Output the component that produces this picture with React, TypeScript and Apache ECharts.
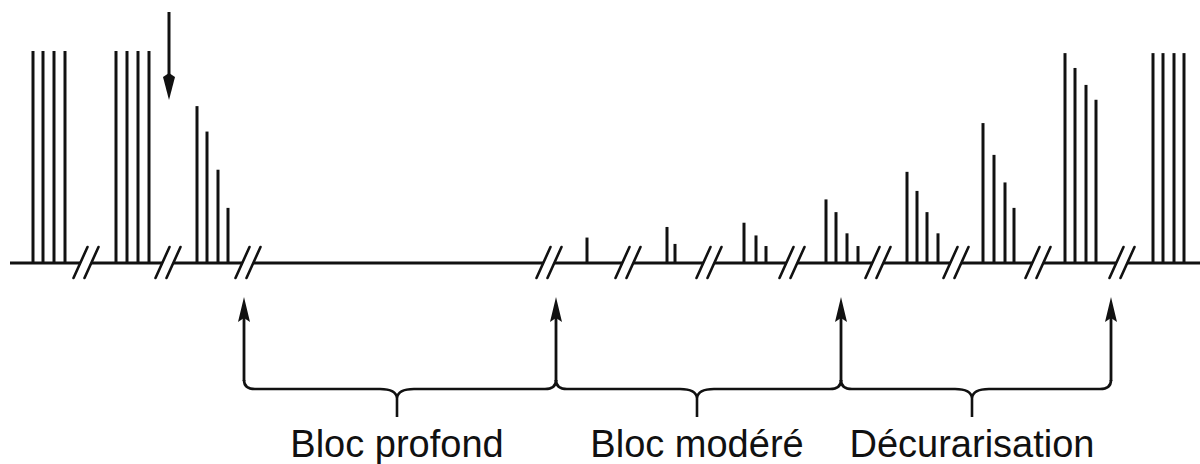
import React, { useEffect, useRef } from "react";
import * as echarts from "echarts";

// Train-of-four stimulations: time position (arbitrary units) and twitch amplitude (% of control)
const twitchTimes = [
  33, 43, 54, 65,
  116, 127, 138, 149,
  197, 207, 218, 228,
  587,
  667, 675,
  744, 756, 766,
  826, 836, 847, 858,
  907, 917, 927, 938,
  983, 994, 1005, 1014,
  1065, 1075, 1086, 1096,
  1153, 1163, 1174, 1184,
];
const twitchAmplitudes = [
  100, 100, 100, 100,
  100, 100, 100, 100,
  74, 62, 44, 26,
  12,
  17, 9,
  19, 13, 8,
  30, 24, 14, 8,
  43, 34, 24, 14,
  66, 51, 38, 26,
  99, 92, 84, 77,
  99, 99, 99, 99,
];
const timeBreaks = [86, 168, 248, 549, 628, 709, 792, 878, 956, 1038, 1122];
const phaseBounds = [244, 556, 841, 1111];
const phaseCenters = [397, 697, 972];
const phaseLabels = ["Bloc profond", "Bloc modéré", "Décurarisation"];
const injectionTime = 169;
const axisStart = 10;
const axisEnd = 1200;

const INK = "#111";

export default function App() {
  const ref = useRef<HTMLDivElement>(null);

  useEffect(() => {
    if (!ref.current) return;
    const chart = echarts.init(ref.current, null, { renderer: "svg" });

    const segments: number[][] = [];
    let start = axisStart;
    timeBreaks.forEach((b) => {
      segments.push([start, b - 5]);
      start = b + 5;
    });
    segments.push([start, axisEnd]);

    const phases = phaseLabels.map((_, i) => [phaseBounds[i], phaseBounds[i + 1], phaseCenters[i]]);

    chart.setOption({
      animation: false,
      backgroundColor: "#fff",
      grid: { left: 0, right: 0, top: 51, bottom: 201, containLabel: false },
      xAxis: { type: "value", min: 0, max: 1200, show: false },
      yAxis: { type: "value", min: 0, max: 100, show: false },
      series: [
        {
          type: "bar",
          name: "twitches",
          silent: true,
          barWidth: 3,
          itemStyle: { color: INK },
          data: twitchTimes.map((t, i) => [t, twitchAmplitudes[i]]),
        },
        {
          type: "custom",
          name: "baseline",
          silent: true,
          data: segments,
          renderItem: (params: any, api: any) => {
            const p0 = api.coord([api.value(0), 0]);
            const p1 = api.coord([api.value(1), 0]);
            return {
              type: "line",
              shape: { x1: p0[0], y1: p0[1], x2: p1[0], y2: p1[1] },
              style: { stroke: INK, lineWidth: 3 },
            };
          },
        },
        {
          type: "custom",
          name: "breaks",
          silent: true,
          data: timeBreaks.map((b) => [b, 0]),
          renderItem: (params: any, api: any) => {
            const p = api.coord([api.value(0), 0]);
            const mk = (dx: number) => ({
              type: "line",
              shape: { x1: p[0] + dx - 7, y1: p[1] + 15, x2: p[0] + dx + 7, y2: p[1] - 16 },
              style: { stroke: INK, lineWidth: 2.6, lineCap: "round" },
            });
            return { type: "group", children: [mk(-5.5), mk(5.5)] };
          },
        },
        {
          type: "custom",
          name: "phases",
          silent: true,
          data: phases,
          renderItem: (params: any, api: any) => {
            const base = api.coord([0, 0])[1];
            const a = api.coord([api.value(0), 0])[0];
            const b = api.coord([api.value(1), 0])[0];
            const c = api.coord([api.value(2), 0])[0];
            const H = base + 126;
            const tipY = base + 154;
            const d =
              `M ${a} ${H - 9} Q ${a} ${H} ${a + 11} ${H} ` +
              `L ${c - 17} ${H} Q ${c - 1} ${H} ${c} ${H + 9} L ${c} ${tipY} ` +
              `M ${c} ${H + 9} Q ${c + 1} ${H} ${c + 17} ${H} ` +
              `L ${b - 11} ${H} Q ${b} ${H} ${b} ${H - 9}`;
            return {
              type: "group",
              children: [
                {
                  type: "path",
                  shape: { pathData: d },
                  style: { stroke: INK, lineWidth: 2.6, fill: "none" },
                },
                {
                  type: "text",
                  x: c,
                  y: base + 181,
                  style: {
                    text: phaseLabels[params.dataIndex],
                    fill: INK,
                    font: '38px "Liberation Sans", Arial, sans-serif',
                    align: "center",
                    verticalAlign: "middle",
                    textAlign: "center",
                    textVerticalAlign: "middle",
                  },
                },
              ],
            };
          },
        },
        {
          type: "custom",
          name: "phaseArrows",
          silent: true,
          data: phaseBounds.map((b) => [b, 0]),
          renderItem: (params: any, api: any) => {
            const p = api.coord([api.value(0), 0]);
            const x = p[0];
            const base = p[1];
            return {
              type: "group",
              children: [
                {
                  type: "line",
                  shape: { x1: x, y1: base + 55, x2: x, y2: base + 118 },
                  style: { stroke: INK, lineWidth: 2.8 },
                },
                {
                  type: "polygon",
                  shape: { points: [[x, base + 34], [x - 6, base + 59], [x, base + 55], [x + 6, base + 59]] },
                  style: { fill: INK },
                },
              ],
            };
          },
        },
        {
          type: "custom",
          name: "injection",
          silent: true,
          data: [[injectionTime, 0]],
          renderItem: (params: any, api: any) => {
            const p = api.coord([api.value(0), 0]);
            const x = p[0];
            const base = p[1];
            return {
              type: "group",
              children: [
                {
                  type: "line",
                  shape: { x1: x, y1: base - 251, x2: x, y2: base - 180 },
                  style: { stroke: INK, lineWidth: 3 },
                },
                {
                  type: "polygon",
                  shape: { points: [[x - 6, base - 186], [x, base - 190], [x + 6, base - 186], [x, base - 163]] },
                  style: { fill: INK },
                },
              ],
            };
          },
        },
      ],
    });

    return () => chart.dispose();
  }, []);

  return (
    <div
      ref={ref}
      style={{ position: "fixed", left: 0, top: 0, width: 1200, height: 464, background: "#fff" }}
    />
  );
}
